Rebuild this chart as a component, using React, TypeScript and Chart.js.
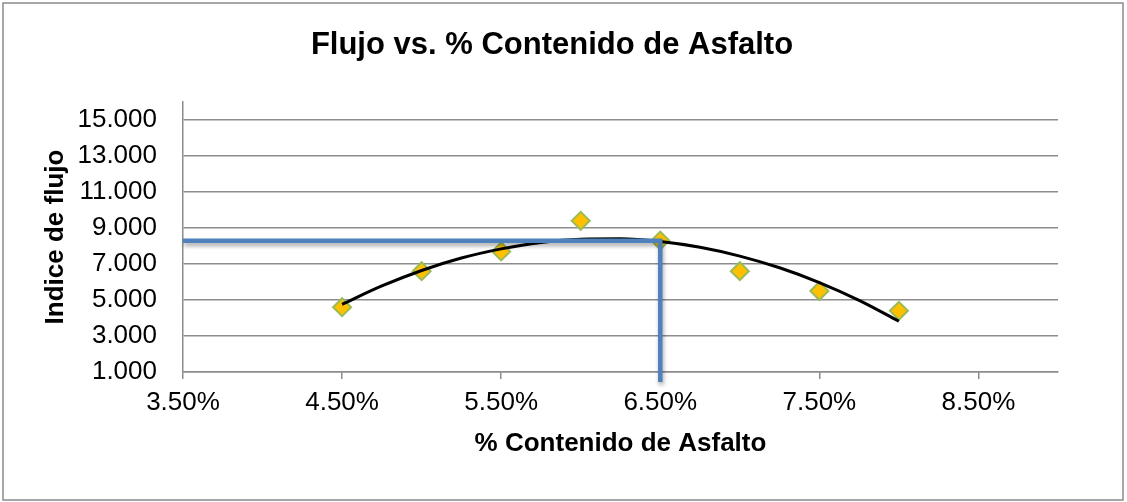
import React, { useEffect, useRef } from 'react';
import { Chart, registerables } from 'chart.js';

Chart.register(...registerables);

// % Contenido de Asfalto (in %) and Indice de flujo
const contenido = [4.5, 5.0, 5.5, 6.0, 6.5, 7.0, 7.5, 8.0];
const flujo = [4.6, 6.6, 7.7, 9.4, 8.3, 6.6, 5.5, 4.4];

// polynomial trendline
const trendX = [4.5, 4.75, 5.0, 5.25, 5.5, 5.75, 6.0, 6.25, 6.5, 6.75, 7.0, 7.25, 7.5, 7.75, 8.0];
const trendY = [4.76, 5.78, 6.64, 7.33, 7.84, 8.2, 8.38, 8.4, 8.25, 7.93, 7.44, 6.79, 5.97, 4.98, 3.82];

// blue guide lines (optimum reading)
const guideX = [3.5, 6.5, 6.5];
const guideY = [8.29, 8.29, 0.45];

const xTicks = [3.5, 4.5, 5.5, 6.5, 7.5, 8.5];
const xTickLabels = ['3.50%', '4.50%', '5.50%', '6.50%', '7.50%', '8.50%'];
const yTicks = [1, 3, 5, 7, 9, 11, 13, 15];
const yTickLabels = ['1.000', '3.000', '5.000', '7.000', '9.000', '11.000', '13.000', '15.000'];

const titleText = 'Flujo vs. % Contenido de Asfalto';
const xTitle = '% Contenido de Asfalto';
const yTitle = 'Indice de flujo';

const FONT = "'Liberation Sans', Arial, sans-serif";
const GRID = '#8c8c8c';

export default function App() {
  const ref = useRef<HTMLCanvasElement | null>(null);

  useEffect(() => {
    document.body.style.margin = '0';
    const canvas = ref.current;
    if (!canvas) return;

    const decor = {
      id: 'decor',
      beforeDraw(chart: any) {
        const ctx = chart.ctx;
        ctx.save();
        ctx.fillStyle = '#ffffff';
        ctx.fillRect(0, 0, chart.width, chart.height);
        ctx.restore();
      },
      beforeDatasetDraw(chart: any, args: any) {
        if (args.index === 0) {
          const ctx = chart.ctx;
          ctx.save();
          ctx.shadowColor = 'rgba(0,0,0,0.35)';
          ctx.shadowBlur = 4;
          ctx.shadowOffsetX = 1;
          ctx.shadowOffsetY = 3;
        }
      },
      afterDatasetDraw(chart: any, args: any) {
        if (args.index === 0) {
          chart.ctx.restore();
        }
      },
      afterDraw(chart: any) {
        const ctx = chart.ctx;
        const ca = chart.chartArea;
        ctx.save();
        // outer border
        ctx.strokeStyle = '#8a8a8a';
        ctx.lineWidth = 1.5;
        ctx.strokeRect(3, 3, 1120, 497);
        ctx.fillStyle = '#000';
        // title
        ctx.font = `bold 31px ${FONT}`;
        ctx.textAlign = 'center';
        ctx.textBaseline = 'alphabetic';
        ctx.fillText(titleText, 552, 53.5);
        // x title
        ctx.font = `bold 26px ${FONT}`;
        ctx.fillText(xTitle, (ca.left + ca.right) / 2, 451);
        // y title
        ctx.save();
        ctx.translate(63, (ca.top + ca.bottom) / 2);
        ctx.rotate(-Math.PI / 2);
        ctx.fillText(yTitle, 0, 0);
        ctx.restore();
        ctx.restore();
      },
    };

    const chart = new Chart(canvas, {
      type: 'scatter',
      data: {
        datasets: [
          {
            data: guideX.map((x, i) => ({ x, y: guideY[i] })),
            showLine: true,
            borderColor: '#4f81bd',
            borderWidth: 4.5,
            pointRadius: 0,
            tension: 0,
            clip: false as any,
            borderCapStyle: 'butt',
          } as any,
          {
            data: trendX.map((x, i) => ({ x, y: trendY[i] })),
            showLine: true,
            borderColor: '#000000',
            borderWidth: 3,
            pointRadius: 0,
            cubicInterpolationMode: 'monotone',
          } as any,
          {
            data: contenido.map((x, i) => ({ x, y: flujo[i] })),
            showLine: false,
            pointStyle: 'rectRot',
            pointRadius: 9,
            pointBackgroundColor: '#ffc000',
            pointBorderColor: '#9bbb59',
            pointBorderWidth: 2,
          } as any,
        ],
      },
      options: {
        animation: false,
        responsive: false,
        maintainAspectRatio: false,
        events: [],
        layout: { padding: { top: 102, right: 69, left: 0, bottom: 0 } },
        plugins: {
          legend: { display: false },
          tooltip: { enabled: false },
          title: { display: false },
        },
        scales: {
          x: {
            type: 'linear',
            min: 3.5,
            max: 9.0,
            afterBuildTicks: (axis: any) => {
              axis.ticks = xTicks.map((v) => ({ value: v }));
            },
            afterFit: (axis: any) => {
              axis.height = 130;
            },
            ticks: {
              callback: (v: any) => {
                const i = xTicks.indexOf(Number(v));
                return i >= 0 ? xTickLabels[i] : '';
              },
              font: { family: FONT, size: 26 },
              color: '#000',
              padding: 8,
              maxRotation: 0,
              autoSkip: false,
            },
            grid: {
              drawOnChartArea: false,
              drawTicks: true,
              tickLength: 7,
              color: GRID,
              lineWidth: 1.5,
            },
            border: { color: GRID, width: 1.5 },
          },
          y: {
            type: 'linear',
            min: 1,
            max: 16,
            afterBuildTicks: (axis: any) => {
              axis.ticks = yTicks.map((v) => ({ value: v }));
            },
            afterFit: (axis: any) => {
              axis.width = 183;
            },
            ticks: {
              callback: (v: any) => {
                const i = yTicks.indexOf(Number(v));
                return i >= 0 ? yTickLabels[i] : '';
              },
              font: { family: FONT, size: 26 },
              color: '#000',
              padding: 26,
              autoSkip: false,
            },
            grid: {
              drawTicks: false,
              color: GRID,
              lineWidth: 1.5,
            },
            border: { color: GRID, width: 1.5 },
          },
        },
      } as any,
      plugins: [decor],
    });

    return () => chart.destroy();
  }, []);

  return (
    <div style={{ width: 1127, height: 502 }}>
      <canvas ref={ref} width={1127} height={502} style={{ display: 'block', width: 1127, height: 502 }} />
    </div>
  );
}
